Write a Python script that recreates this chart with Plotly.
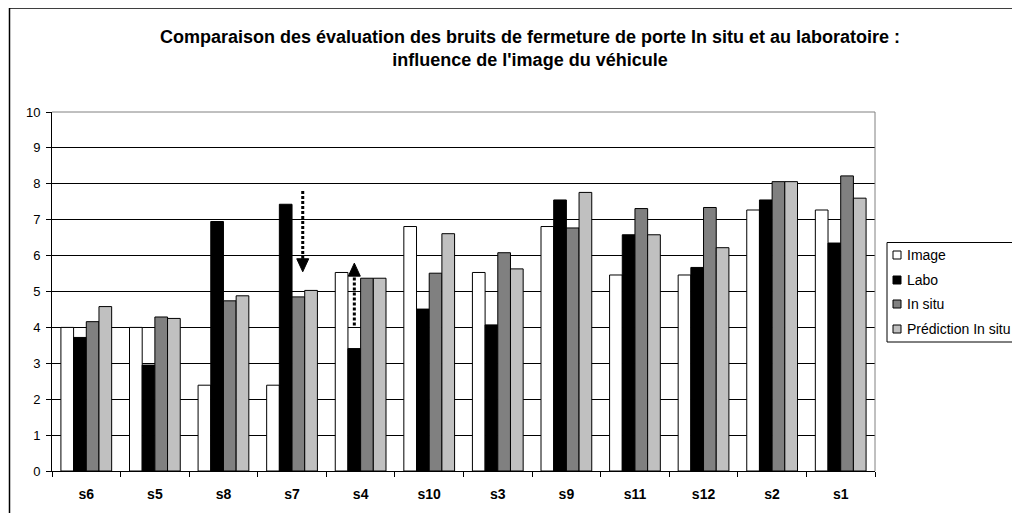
import plotly.graph_objects as go

categories = ["s6", "s5", "s8", "s7", "s4", "s10", "s3", "s9", "s11", "s12", "s2", "s1"]
image_vals = [4.0, 4.0, 2.39, 2.39, 5.53, 6.81, 5.53, 6.81, 5.46, 5.46, 7.27, 7.27]
labo_vals = [3.72, 2.95, 6.95, 7.43, 3.41, 4.51, 4.07, 7.55, 6.58, 5.67, 7.55, 6.35]
insitu_vals = [4.16, 4.29, 4.74, 4.85, 5.37, 5.51, 6.08, 6.77, 7.31, 7.34, 8.06, 8.22]
pred_vals = [4.58, 4.25, 4.88, 5.03, 5.37, 6.61, 5.63, 7.76, 6.58, 6.22, 8.06, 7.60]

series_names = ["Image", "Labo", "In situ", "Prédiction In situ"]
series_colors = ["#FFFFFF", "#000000", "#808080", "#C0C0C0"]
series_values = [image_vals, labo_vals, insitu_vals, pred_vals]

title_text = ("Comparaison des évaluation des bruits de fermeture de porte In situ et au laboratoire :"
              "<br>influence de l'image du véhicule")

FONT = "Liberation Sans, Arial, sans-serif"

# figure geometry (page has an 8px body margin)
W, H = 1012, 505
ML, MT, PW, PH = 44, 104, 823, 359
MR, MB = W - ML - PW, H - MT - PH


def px_x(px):  # figure pixel -> paper x
    return (px - ML) / PW


def px_y(py):  # figure pixel -> paper y
    return (MT + PH - py) / PH


fig = go.Figure()
for name, color, vals in zip(series_names, series_colors, series_values):
    fig.add_trace(go.Bar(
        x=categories, y=vals, name=name, showlegend=False,
        marker=dict(color=color, line=dict(color="#000000", width=1)),
    ))

# annotation arrows (dotted shafts + triangular heads)
arrows = [
    dict(x=3.156, y_start=7.8, y_tip=5.55, down=True),
    dict(x=3.908, y_start=4.05, y_tip=5.79, down=False),
]
head_h = 13
head_w = 6
px_per_unit = PH / 10.0
shapes = []
for a in arrows:
    off = head_h / px_per_unit
    y_end = a["y_tip"] + off if a["down"] else a["y_tip"] - off
    shapes.append(dict(type="line", xref="x", yref="y", x0=a["x"], x1=a["x"],
                       y0=a["y_start"], y1=y_end,
                       line=dict(color="#000000", width=3, dash="3px,2px")))
    s = 1 if a["down"] else -1
    shapes.append(dict(type="path", xref="x", yref="y", xsizemode="pixel", ysizemode="pixel",
                       xanchor=a["x"], yanchor=a["y_tip"],
                       path=f"M {-head_w} {s*head_h} L {head_w} {s*head_h} L 0 0 Z",
                       fillcolor="#000000", line=dict(color="#000000", width=1)))

# plot-area border (right and top) in grey
shapes.append(dict(type="line", xref="paper", yref="paper", x0=1, x1=1, y0=0, y1=1,
                   line=dict(color="#808080", width=1)))
shapes.append(dict(type="line", xref="paper", yref="paper", x0=0, x1=1, y0=1, y1=1,
                   line=dict(color="#808080", width=1)))
# chart-area border
shapes.append(dict(type="rect", xref="paper", yref="paper",
                   x0=px_x(1.5), x1=px_x(1100), y0=px_y(600), y1=px_y(0),
                   line=dict(color="#000000", width=1.5), fillcolor="rgba(0,0,0,0)"))

# legend box, swatches and labels
LEG_LEFT, LEG_TOP, LEG_BOTTOM = 879, 234.5, 334
row_y = [247, 272, 296, 321]
shapes.append(dict(type="rect", xref="paper", yref="paper",
                   x0=px_x(LEG_LEFT), x1=px_x(1100), y0=px_y(LEG_BOTTOM), y1=px_y(LEG_TOP),
                   line=dict(color="#000000", width=1), fillcolor="#FFFFFF", layer="above"))
annotations = []
for name, color, ry in zip(series_names, series_colors, row_y):
    shapes.append(dict(type="rect", xref="paper", yref="paper",
                       x0=px_x(LEG_LEFT + 6), x1=px_x(LEG_LEFT + 14),
                       y0=px_y(ry + 4), y1=px_y(ry - 4),
                       line=dict(color="#000000", width=1), fillcolor=color, layer="above"))
    annotations.append(dict(text=name, xref="paper", yref="paper",
                            x=px_x(LEG_LEFT + 18), y=px_y(ry), xanchor="left", yanchor="middle",
                            showarrow=False, font=dict(family=FONT, size=14, color="#000000")))

fig.update_layout(
    width=W, height=H,
    margin=dict(l=ML, r=MR, t=MT, b=MB, autoexpand=False),
    paper_bgcolor="#FFFFFF", plot_bgcolor="#FFFFFF",
    font=dict(family=FONT, color="#000000"),
    barmode="group", bargap=0.26, bargroupgap=0,
    showlegend=False,
    title=dict(text="<b>" + title_text.replace("<br>", "</b><br><b>") + "</b>",
               x=522 / W, xref="container", xanchor="center",
               y=0.931, yref="container", yanchor="top",
               font=dict(family=FONT, size=18, color="#000000")),
    xaxis=dict(type="category", tickson="boundaries", ticks="outside", ticklen=5,
               tickcolor="#000000", showline=True, linecolor="#000000", linewidth=1,
               showgrid=False, tickfont=dict(family=FONT, size=14, color="#000000", weight="bold"),
               ticklabelstandoff=10),
    yaxis=dict(range=[0, 10], dtick=1, ticks="outside", ticklen=5, tickcolor="#000000",
               showline=True, linecolor="#000000", linewidth=1, showgrid=True,
               gridcolor="#000000", gridwidth=1, zeroline=False,
               tickfont=dict(family=FONT, size=13, color="#000000"), ticklabelstandoff=3),
    shapes=shapes,
    annotations=annotations,
)

fig.write_html("out.html")
